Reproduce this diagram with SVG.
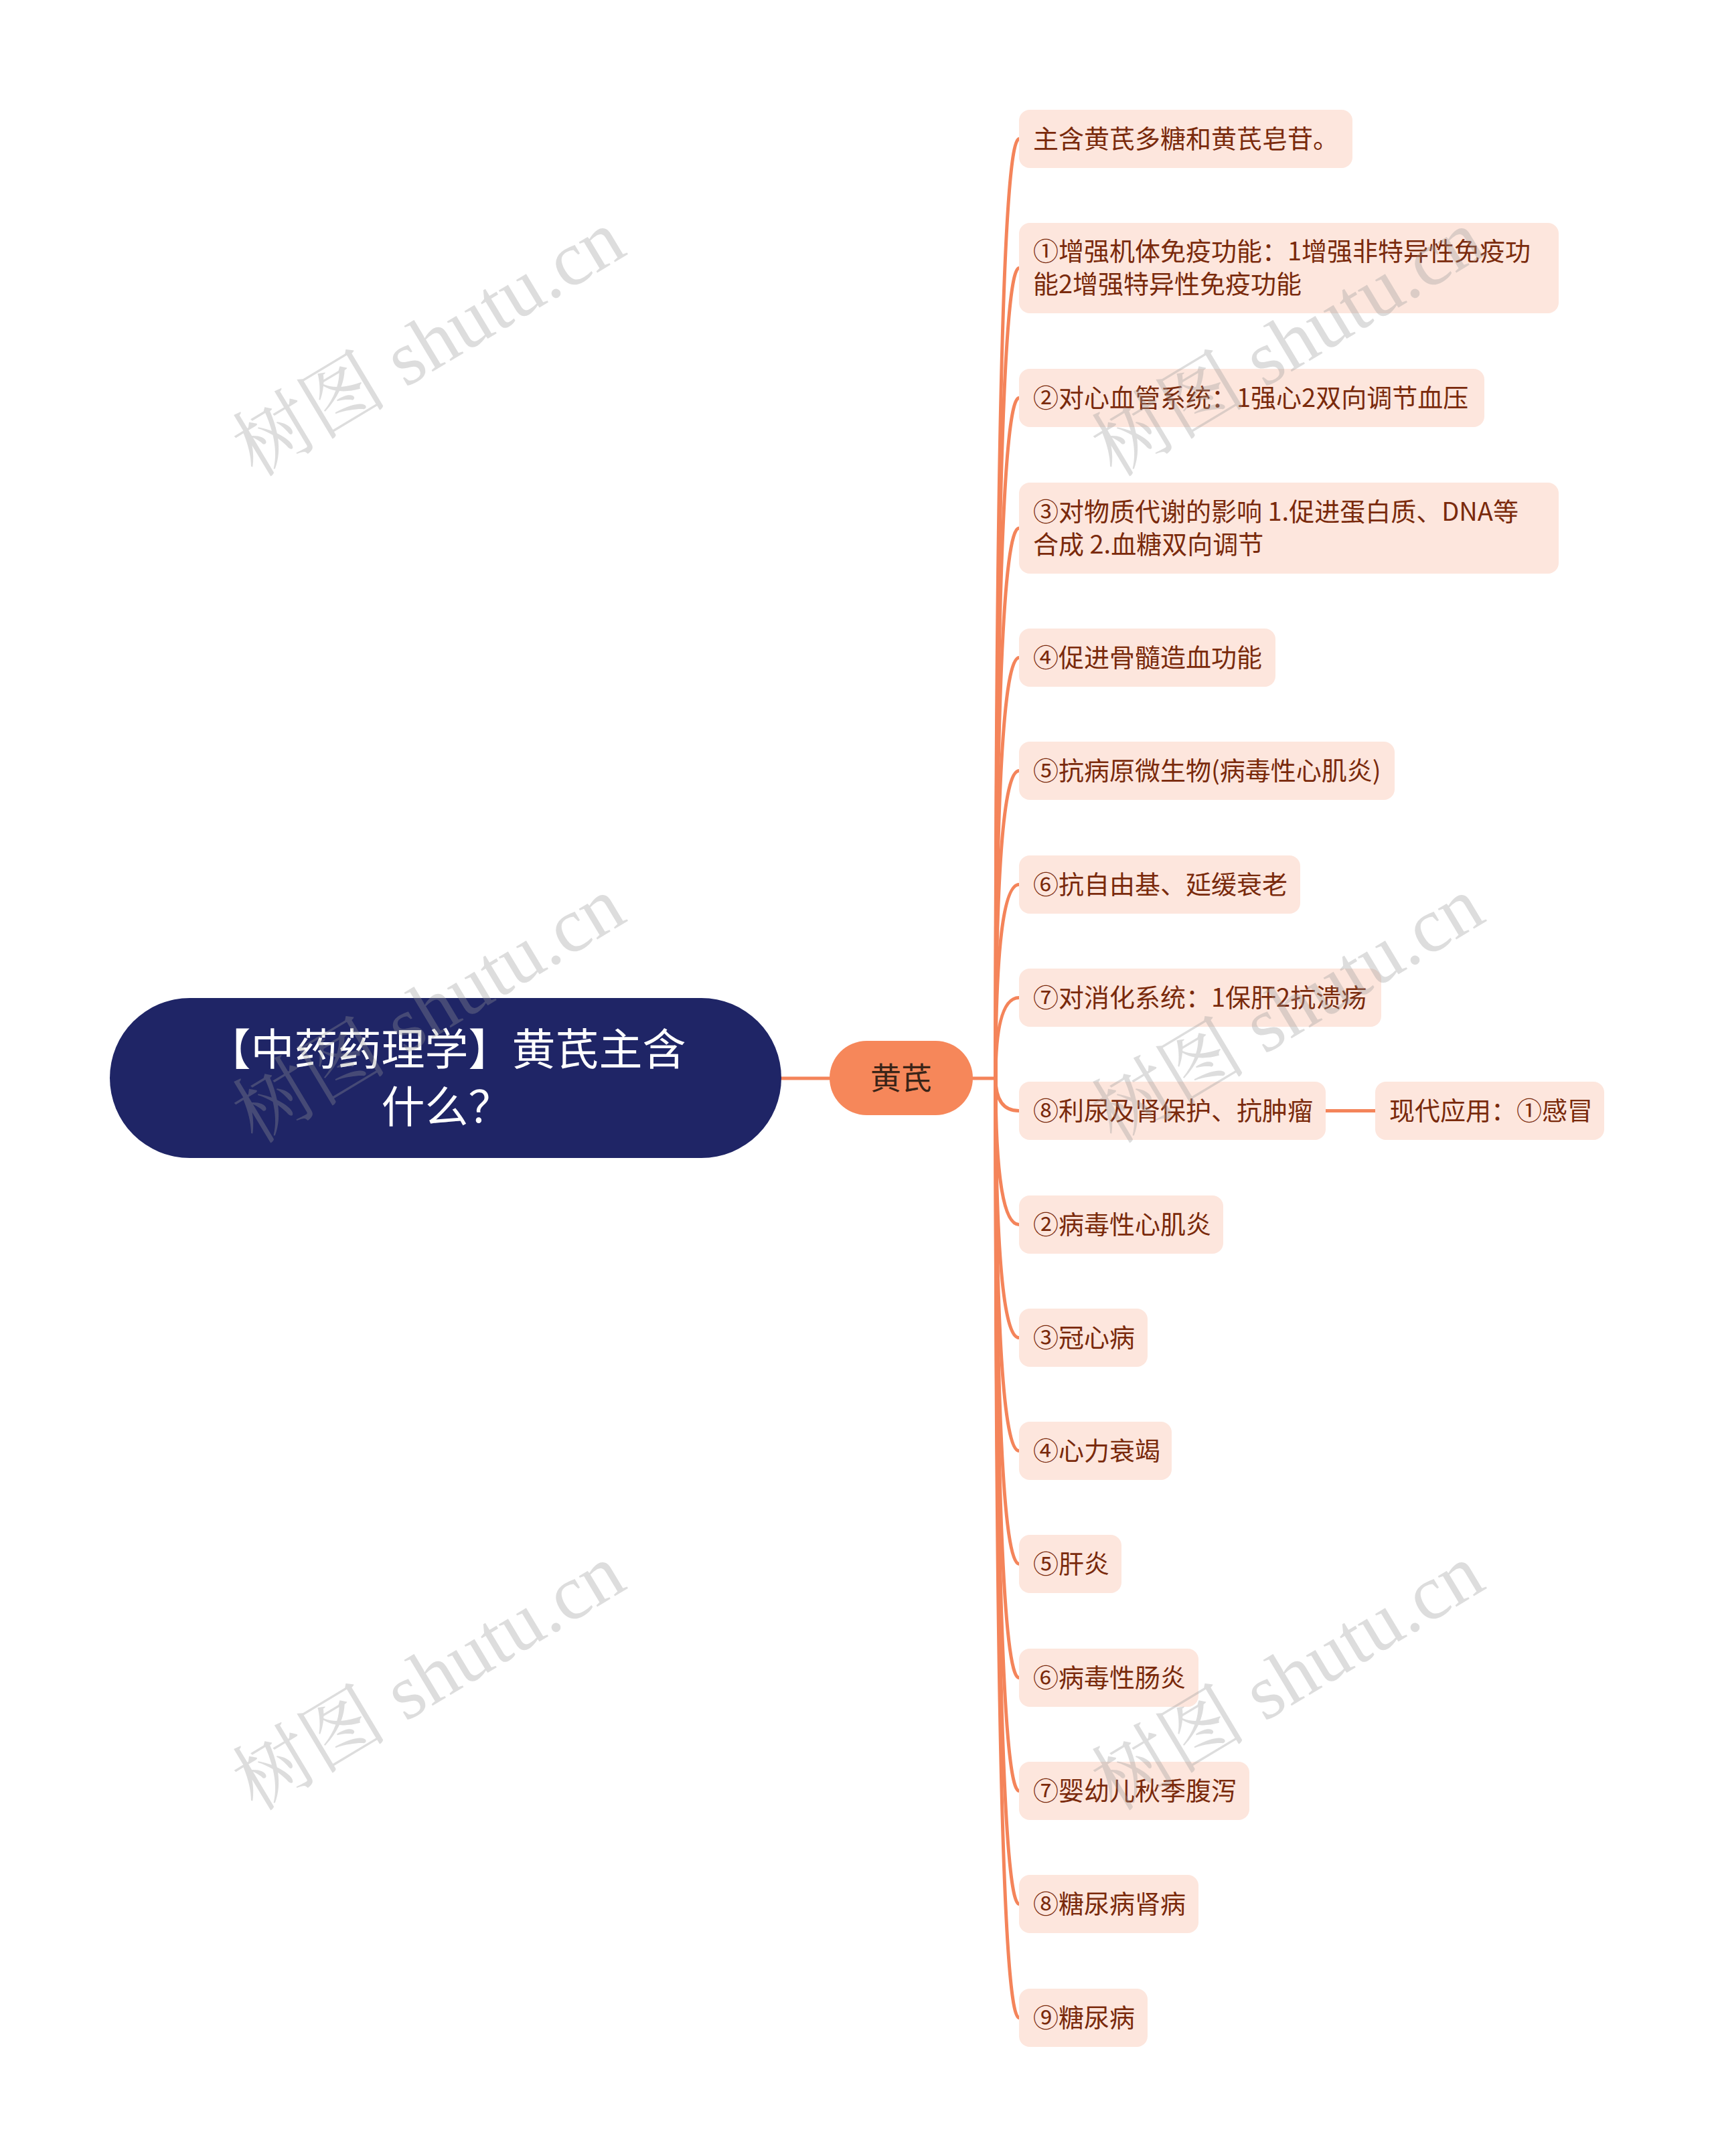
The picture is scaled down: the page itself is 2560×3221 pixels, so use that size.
<svg xmlns="http://www.w3.org/2000/svg" width="2560" height="3221" viewBox="0 0 2560 3221">
<style>
.bg{fill:#ffffff}
.box{fill:#fde6dd}
.t{font-family:"Noto Sans CJK SC","Noto Sans",sans-serif;font-size:38px;fill:#7a2a0c}
.root{fill:#1f2566}
.rt{font-family:"Noto Sans CJK SC","Noto Sans",sans-serif;font-size:65px;fill:#ffffff;text-anchor:middle}
.main{fill:#f6875a}
.mt{font-family:"Noto Sans CJK SC","Noto Sans",sans-serif;font-size:46px;fill:#3a2418;text-anchor:middle}
.ln{fill:none;stroke:#f4845a;stroke-width:5;stroke-linecap:round}
.wm{font-family:"Liberation Serif","Noto Serif CJK SC","Noto Sans CJK SC",serif;font-size:116px;fill:#999999;fill-opacity:0.33;text-anchor:middle}
</style>
<rect class="bg" x="0" y="0" width="2560" height="3221"/>
<g id="connectors">
<path class="ln" d="M1167 1611 H1239"/>
<path class="ln" d="M1453 1611 H1487"/>
<path class="ln" d="M1487 1611 Q1487 207.5 1522 207.5"/>
<path class="ln" d="M1487 1611 Q1487 400.5 1522 400.5"/>
<path class="ln" d="M1487 1611 Q1487 594.5 1522 594.5"/>
<path class="ln" d="M1487 1611 Q1487 789 1522 789"/>
<path class="ln" d="M1487 1611 Q1487 982.5 1522 982.5"/>
<path class="ln" d="M1487 1611 Q1487 1151.5 1522 1151.5"/>
<path class="ln" d="M1487 1611 Q1487 1321.5 1522 1321.5"/>
<path class="ln" d="M1487 1611 Q1487 1490.5 1522 1490.5"/>
<path class="ln" d="M1487 1611 Q1487 1659.5 1522 1659.5"/>
<path class="ln" d="M1487 1611 Q1487 1829.5 1522 1829.5"/>
<path class="ln" d="M1487 1611 Q1487 1998.5 1522 1998.5"/>
<path class="ln" d="M1487 1611 Q1487 2167.5 1522 2167.5"/>
<path class="ln" d="M1487 1611 Q1487 2336.5 1522 2336.5"/>
<path class="ln" d="M1487 1611 Q1487 2506.5 1522 2506.5"/>
<path class="ln" d="M1487 1611 Q1487 2675.5 1522 2675.5"/>
<path class="ln" d="M1487 1611 Q1487 2844.5 1522 2844.5"/>
<path class="ln" d="M1487 1611 Q1487 3014.5 1522 3014.5"/>
<path class="ln" d="M1980 1659.5 H2054"/>
</g>
<g id="root">
<rect class="root" x="164" y="1491" width="1003" height="239" rx="119.5"/>
<text class="rt" x="667" y="1591">【中药药理学】黄芪主含</text>
<text class="rt" x="667" y="1677">什么？</text>
</g>
<g id="main">
<rect class="main" x="1239" y="1555" width="214" height="111" rx="55.5"/>
<text class="mt" x="1346" y="1627">黄芪</text>
</g>
<g id="n1"><rect class="box" x="1522" y="164" width="498" height="87" rx="16"/><text class="t" x="1543" y="220.5">主含黄芪多糖和黄芪皂苷。</text></g>
<g id="n2"><rect class="box" x="1522" y="333" width="806" height="135" rx="16"/><text class="t" x="1543" y="389">①增强机体免疫功能：1增强非特异性免疫功</text><text class="t" x="1543" y="438">能2增强特异性免疫功能</text></g>
<g id="n3"><rect class="box" x="1522" y="551" width="695" height="87" rx="16"/><text class="t" x="1543" y="607.5">②对心血管系统：1强心2双向调节血压</text></g>
<g id="n4"><rect class="box" x="1522" y="721" width="806" height="136" rx="16"/><text class="t" x="1543" y="777.5">③对物质代谢的影响 1.促进蛋白质、DNA等</text><text class="t" x="1543" y="826.5">合成 2.血糖双向调节</text></g>
<g id="n5"><rect class="box" x="1522" y="939" width="383" height="87" rx="16"/><text class="t" x="1543" y="995.5">④促进骨髓造血功能</text></g>
<g id="n6"><rect class="box" x="1522" y="1108" width="561" height="87" rx="16"/><text class="t" x="1543" y="1164.5">⑤抗病原微生物(病毒性心肌炎)</text></g>
<g id="n7"><rect class="box" x="1522" y="1278" width="420" height="87" rx="16"/><text class="t" x="1543" y="1334.5">⑥抗自由基、延缓衰老</text></g>
<g id="n8"><rect class="box" x="1522" y="1447" width="541" height="87" rx="16"/><text class="t" x="1543" y="1503.5">⑦对消化系统：1保肝2抗溃疡</text></g>
<g id="n9"><rect class="box" x="1522" y="1616" width="458" height="87" rx="16"/><text class="t" x="1543" y="1672.5">⑧利尿及肾保护、抗肿瘤</text></g>
<g id="n9a"><rect class="box" x="2054" y="1616" width="342" height="87" rx="16"/><text class="t" x="2075" y="1672.5">现代应用：①感冒</text></g>
<g id="n10"><rect class="box" x="1522" y="1786" width="305" height="87" rx="16"/><text class="t" x="1543" y="1842.5">②病毒性心肌炎</text></g>
<g id="n11"><rect class="box" x="1522" y="1955" width="192" height="87" rx="16"/><text class="t" x="1543" y="2011.5">③冠心病</text></g>
<g id="n12"><rect class="box" x="1522" y="2124" width="228" height="87" rx="16"/><text class="t" x="1543" y="2180.5">④心力衰竭</text></g>
<g id="n13"><rect class="box" x="1522" y="2293" width="153" height="87" rx="16"/><text class="t" x="1543" y="2349.5">⑤肝炎</text></g>
<g id="n14"><rect class="box" x="1522" y="2463" width="268" height="87" rx="16"/><text class="t" x="1543" y="2519.5">⑥病毒性肠炎</text></g>
<g id="n15"><rect class="box" x="1522" y="2632" width="344" height="87" rx="16"/><text class="t" x="1543" y="2688.5">⑦婴幼儿秋季腹泻</text></g>
<g id="n16"><rect class="box" x="1522" y="2801" width="268" height="87" rx="16"/><text class="t" x="1543" y="2857.5">⑧糖尿病肾病</text></g>
<g id="n17"><rect class="box" x="1522" y="2971" width="192" height="87" rx="16"/><text class="t" x="1543" y="3027.5">⑨糖尿病</text></g>
<g id="watermarks">
<text class="wm" transform="translate(641 514) rotate(-31)" y="38">树图 shutu.cn</text>
<text class="wm" transform="translate(1924 514) rotate(-31)" y="38">树图 shutu.cn</text>
<text class="wm" transform="translate(641 1510) rotate(-31)" y="38">树图 shutu.cn</text>
<text class="wm" transform="translate(1924 1510) rotate(-31)" y="38">树图 shutu.cn</text>
<text class="wm" transform="translate(641 2507) rotate(-31)" y="38">树图 shutu.cn</text>
<text class="wm" transform="translate(1924 2507) rotate(-31)" y="38">树图 shutu.cn</text>
</g>
</svg>
